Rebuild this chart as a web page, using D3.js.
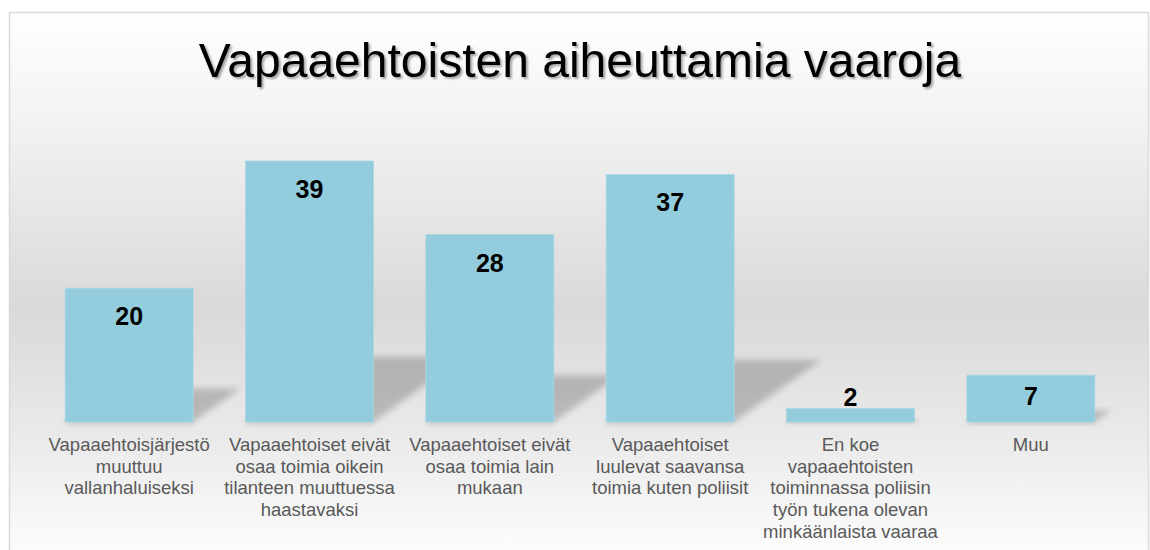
<!DOCTYPE html>
<html>
<head>
<meta charset="utf-8">
<script src="https://cdn.jsdelivr.net/npm/d3@7"></script>
<style>
  body { margin: 0; background: #fff; }
  svg { display: block; font-family: Arial, "Liberation Sans", sans-serif; }
</style>
</head>
<body>
<div id="chart"></div>
<script>
// data
const titleText = "Vapaaehtoisten aiheuttamia vaaroja";
const categories = [
  "Vapaaehtoisjärjestö\nmuuttuu\nvallanhaluiseksi",
  "Vapaaehtoiset eivät\nosaa toimia oikein\ntilanteen muuttuessa\nhaastavaksi",
  "Vapaaehtoiset eivät\nosaa toimia lain\nmukaan",
  "Vapaaehtoiset\nluulevat saavansa\ntoimia kuten poliisit",
  "En koe\nvapaaehtoisten\ntoiminnassa poliisin\ntyön tukena olevan\nminkäänlaista vaaraa",
  "Muu"
];
const values = [20, 39, 28, 37, 2, 7];

function createChart() {
  const width = 1150, height = 550;
  const baseY = 422;

  const svg = d3.select("#chart").append("svg")
    .attr("width", width)
    .attr("height", height);

  const defs = svg.append("defs");

  // background gradient of the chart area
  const bg = defs.append("linearGradient")
    .attr("id", "bgGrad")
    .attr("gradientUnits", "userSpaceOnUse")
    .attr("x1", 0).attr("y1", 12).attr("x2", 0).attr("y2", 550);
  [[0, "#ffffff"], [0.24, "#f0f0f0"], [0.55, "#d9d9d9"], [0.78, "#e9e9e9"], [1, "#fcfcfc"]]
    .forEach(function(s) { bg.append("stop").attr("offset", s[0]).attr("stop-color", s[1]); });

  defs.append("filter").attr("id", "blurShadow")
    .attr("x", "-30%").attr("y", "-30%").attr("width", "160%").attr("height", "160%")
    .append("feGaussianBlur").attr("stdDeviation", 3);

  const tf = defs.append("filter").attr("id", "titleShadow")
    .attr("x", "-5%").attr("y", "-20%").attr("width", "110%").attr("height", "150%");
  tf.append("feDropShadow")
    .attr("dx", 2).attr("dy", 2).attr("stdDeviation", 1.2)
    .attr("flood-color", "#000").attr("flood-opacity", 0.35);

  // frame
  svg.append("rect")
    .attr("x", 9.5).attr("y", 12.5)
    .attr("width", 1139).attr("height", 600)
    .attr("fill", "url(#bgGrad)")
    .attr("stroke", "#d9d9d9")
    .attr("stroke-width", 1.5);

  const x = d3.scaleBand()
    .domain(d3.range(categories.length))
    .range([39, 1121])
    .paddingInner(0.29)
    .paddingOuter(0.145);

  const y = d3.scaleLinear()
    .domain([0, 45])
    .range([baseY, baseY - 45 * 261 / 39]);

  // perspective shadows behind bars
  svg.append("g").selectAll("path")
    .data(values)
    .enter().append("path")
    .attr("d", function(d, i) {
      const h = baseY - y(d);
      const x0 = x(i), x1 = x(i) + x.bandwidth();
      const s = 0.35 * h, hs = 0.25 * h;
      return "M" + x0 + "," + baseY + "L" + x1 + "," + baseY +
             "L" + (x1 + s) + "," + (baseY - hs) + "L" + (x0 + s) + "," + (baseY - hs) + "Z";
    })
    .attr("fill", "#000")
    .attr("opacity", 0.2)
    .attr("filter", "url(#blurShadow)");

  // soft floor shadow beneath bars
  svg.append("g").selectAll("rect")
    .data(values)
    .enter().append("rect")
    .attr("x", function(d, i) { return x(i); })
    .attr("y", baseY - 2)
    .attr("width", x.bandwidth())
    .attr("height", 5)
    .attr("fill", "#000")
    .attr("opacity", 0.06)
    .attr("filter", "url(#blurShadow)");

  // bars
  svg.append("g").selectAll("rect")
    .data(values)
    .enter().append("rect")
    .attr("x", function(d, i) { return x(i); })
    .attr("y", function(d) { return y(d); })
    .attr("width", x.bandwidth())
    .attr("height", function(d) { return baseY - y(d); })
    .attr("fill", "#93cddd")
    .attr("stroke", "#a9d8e4")
    .attr("stroke-width", 0.8);

  // value labels
  svg.append("g").selectAll("text")
    .data(values)
    .enter().append("text")
    .attr("x", function(d, i) { return x(i) + x.bandwidth() / 2; })
    .attr("y", function(d) {
      const h = baseY - y(d);
      if (h < 25) return y(d) - 3;
      return Math.min(y(d) + 37, baseY - 17);
    })
    .attr("text-anchor", "middle")
    .style("font-size", "25px")
    .style("font-weight", "bold")
    .attr("fill", "#000")
    .text(function(d) { return d; });

  // category labels
  const cat = svg.append("g").selectAll("text")
    .data(categories)
    .enter().append("text")
    .attr("text-anchor", "middle")
    .style("font-size", "18.5px")
    .attr("fill", "#595959");
  cat.each(function(d, i) {
    const t = d3.select(this);
    d.split("\n").forEach(function(line, j) {
      t.append("tspan")
        .attr("x", x(i) + x.bandwidth() / 2)
        .attr("y", 451 + j * 21.7)
        .text(line);
    });
  });

  // title
  svg.append("text")
    .attr("x", 580)
    .attr("y", 77)
    .attr("text-anchor", "middle")
    .style("font-size", "48px")
    .attr("fill", "#000")
    .attr("filter", "url(#titleShadow)")
    .text(titleText);
}

document.addEventListener("DOMContentLoaded", createChart);
</script>
</body>
</html>
